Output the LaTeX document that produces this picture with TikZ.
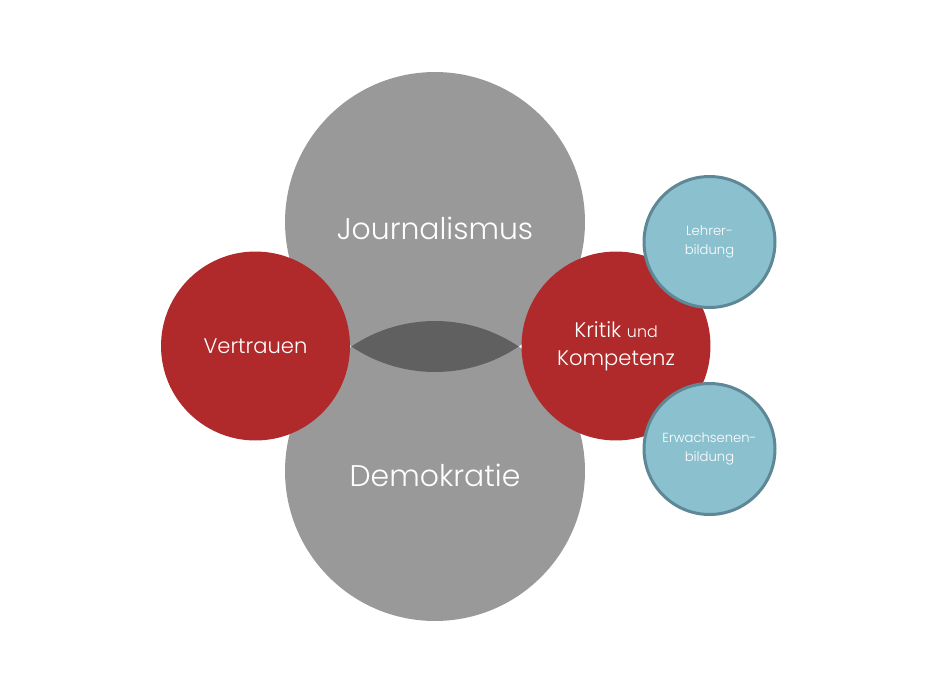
\documentclass[tikz,border=0pt]{standalone}
\usepackage{fontspec}
\setmainfont{Poppins Light}
\definecolor{grayball}{RGB}{153,153,153}
\definecolor{lensgray}{RGB}{96,96,96}
\definecolor{redball}{RGB}{176,42,43}
\definecolor{blueball}{RGB}{139,192,207}
\definecolor{blueedge}{RGB}{94,136,150}
\begin{document}
\begin{tikzpicture}[x=0.02cm, y=-0.02cm,
    bigball/.style={circle, fill=grayball, minimum size=6cm, inner sep=0pt},
    bigtext/.style={text=white, font=\fontsize{17}{20}\selectfont},
    midball/.style={circle, fill=redball, minimum size=3.78cm, inner sep=0pt,
      text=white, align=center, font=\fontsize{12}{16}\selectfont},
    smallball/.style={circle, fill=blueball, draw=blueedge, line width=0.06cm,
      minimum size=2.62cm, inner sep=0pt, text=white, align=center,
      font=\fontsize{7.5}{10.5}\selectfont}]
    \useasboundingbox (0, 0) rectangle (942, 693);

    \node (journ) at (435, 222) [bigball] {};
    \node (demo) at (435, 471) [bigball] {};
    \node (journ-text) at (435, 228) [bigtext] {Journalismus};
    \node (demo-text) at (435, 475) [bigtext] {Demokratie};

    % overlap of the two big circles
    \begin{scope}
        \clip (journ.center) circle (3cm);
        \fill[lensgray] (demo.center) circle (3cm);
    \end{scope}

    \node (trust) at (255.5, 346) [midball] {Vertrauen};
    \node (critic) at (616, 346) [midball] {Kritik {\fontsize{9}{16}\selectfont und}\\Kompetenz};

    \node (teach) at (709.5, 242) [smallball] {Lehrer-\\bildung};
    \node (adult) at (709.5, 449) [smallball] {Erwachsenen-\\bildung};

\end{tikzpicture}
\end{document}
